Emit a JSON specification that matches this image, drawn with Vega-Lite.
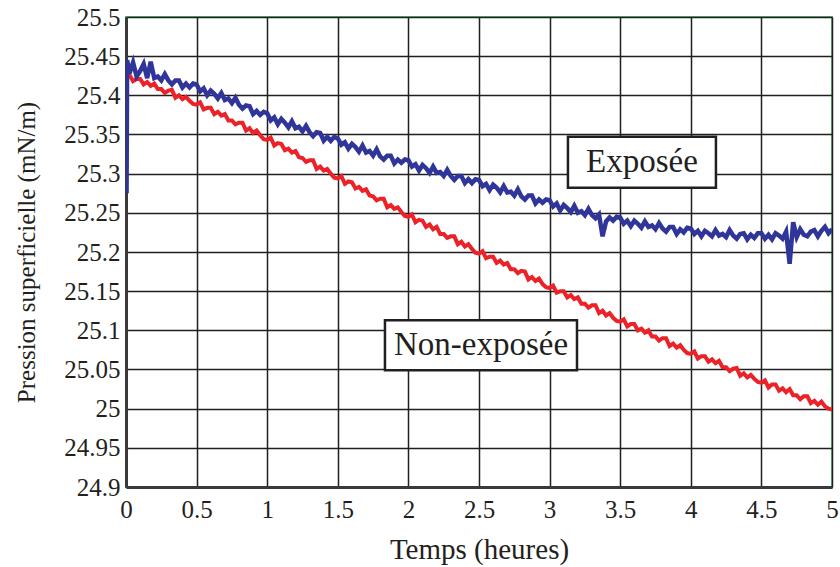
{
  "$schema": "https://vega.github.io/schema/vega-lite/v6.json",
  "width": 706,
  "height": 470,
  "autosize": "none",
  "padding": {"left": 126, "top": 17, "right": 8, "bottom": 80},
  "background": "white",
  "config": {
    "font": "Liberation Serif",
    "view": {"stroke": "#5cb87f", "strokeWidth": 2},
    "axis": {
      "labelFont": "Liberation Serif",
      "titleFont": "Liberation Serif",
      "labelFontSize": 25,
      "titleFontWeight": "normal",
      "labelColor": "#231f20",
      "titleColor": "#231f20",
      "gridColor": "#231f20",
      "gridWidth": 1.5,
      "gridOpacity": 1,
      "domainColor": "#3a3a3a",
      "domainWidth": 3,
      "ticks": false,
      "labelFlush": false,
      "labelOverlap": false
    },
    "axisX": {"labelPadding": 10, "titlePadding": 13, "titleFontSize": 29},
    "axisY": {"labelPadding": 6, "titlePadding": 24, "titleFontSize": 25}
  },
  "datasets": {
    "series": [
      {"t":0,"e":25.436,"n":25.423},
      {"t":0.004,"e":25.275,"n":25.424},
      {"t":0.008,"e":25.445,"n":25.425},
      {"t":0.025,"e":25.428,"n":25.426},
      {"t":0.05,"e":25.442,"n":25.418},
      {"t":0.075,"e":25.424,"n":25.421},
      {"t":0.1,"e":25.431,"n":25.421},
      {"t":0.125,"e":25.440,"n":25.414},
      {"t":0.15,"e":25.422,"n":25.417},
      {"t":0.175,"e":25.443,"n":25.412},
      {"t":0.2,"e":25.422,"n":25.415},
      {"t":0.225,"e":25.424,"n":25.408},
      {"t":0.25,"e":25.419,"n":25.408},
      {"t":0.275,"e":25.427,"n":25.403},
      {"t":0.3,"e":25.419,"n":25.406},
      {"t":0.325,"e":25.414,"n":25.407},
      {"t":0.35,"e":25.419,"n":25.397},
      {"t":0.375,"e":25.419,"n":25.400},
      {"t":0.4,"e":25.410,"n":25.395},
      {"t":0.425,"e":25.415,"n":25.398},
      {"t":0.45,"e":25.410,"n":25.393},
      {"t":0.475,"e":25.415,"n":25.389},
      {"t":0.5,"e":25.414,"n":25.388},
      {"t":0.525,"e":25.405,"n":25.391},
      {"t":0.55,"e":25.409,"n":25.382},
      {"t":0.575,"e":25.400,"n":25.384},
      {"t":0.6,"e":25.406,"n":25.384},
      {"t":0.625,"e":25.402,"n":25.376},
      {"t":0.65,"e":25.396,"n":25.379},
      {"t":0.675,"e":25.403,"n":25.374},
      {"t":0.7,"e":25.394,"n":25.376},
      {"t":0.725,"e":25.396,"n":25.368},
      {"t":0.75,"e":25.390,"n":25.368},
      {"t":0.775,"e":25.397,"n":25.363},
      {"t":0.8,"e":25.388,"n":25.365},
      {"t":0.825,"e":25.383,"n":25.365},
      {"t":0.85,"e":25.387,"n":25.355},
      {"t":0.875,"e":25.386,"n":25.358},
      {"t":0.9,"e":25.376,"n":25.352},
      {"t":0.925,"e":25.380,"n":25.355},
      {"t":0.95,"e":25.375,"n":25.349},
      {"t":0.975,"e":25.379,"n":25.344},
      {"t":1,"e":25.377,"n":25.343},
      {"t":1.025,"e":25.368,"n":25.346},
      {"t":1.05,"e":25.372,"n":25.336},
      {"t":1.075,"e":25.363,"n":25.339},
      {"t":1.1,"e":25.370,"n":25.338},
      {"t":1.125,"e":25.365,"n":25.330},
      {"t":1.15,"e":25.359,"n":25.332},
      {"t":1.175,"e":25.367,"n":25.327},
      {"t":1.2,"e":25.358,"n":25.329},
      {"t":1.225,"e":25.360,"n":25.321},
      {"t":1.25,"e":25.354,"n":25.320},
      {"t":1.275,"e":25.361,"n":25.315},
      {"t":1.3,"e":25.353,"n":25.317},
      {"t":1.325,"e":25.348,"n":25.317},
      {"t":1.35,"e":25.353,"n":25.306},
      {"t":1.375,"e":25.352,"n":25.309},
      {"t":1.4,"e":25.342,"n":25.304},
      {"t":1.425,"e":25.347,"n":25.306},
      {"t":1.45,"e":25.342,"n":25.300},
      {"t":1.475,"e":25.347,"n":25.295},
      {"t":1.5,"e":25.345,"n":25.294},
      {"t":1.525,"e":25.337,"n":25.297},
      {"t":1.55,"e":25.340,"n":25.287},
      {"t":1.575,"e":25.332,"n":25.290},
      {"t":1.6,"e":25.338,"n":25.289},
      {"t":1.625,"e":25.334,"n":25.281},
      {"t":1.65,"e":25.328,"n":25.283},
      {"t":1.675,"e":25.336,"n":25.278},
      {"t":1.7,"e":25.327,"n":25.280},
      {"t":1.725,"e":25.329,"n":25.272},
      {"t":1.75,"e":25.323,"n":25.271},
      {"t":1.775,"e":25.331,"n":25.266},
      {"t":1.8,"e":25.322,"n":25.268},
      {"t":1.825,"e":25.318,"n":25.268},
      {"t":1.85,"e":25.323,"n":25.257},
      {"t":1.875,"e":25.323,"n":25.260},
      {"t":1.9,"e":25.313,"n":25.255},
      {"t":1.925,"e":25.318,"n":25.257},
      {"t":1.95,"e":25.314,"n":25.251},
      {"t":1.975,"e":25.318,"n":25.246},
      {"t":2,"e":25.317,"n":25.245},
      {"t":2.025,"e":25.309,"n":25.248},
      {"t":2.05,"e":25.312,"n":25.238},
      {"t":2.075,"e":25.304,"n":25.241},
      {"t":2.1,"e":25.311,"n":25.240},
      {"t":2.125,"e":25.307,"n":25.232},
      {"t":2.15,"e":25.301,"n":25.235},
      {"t":2.175,"e":25.309,"n":25.229},
      {"t":2.2,"e":25.301,"n":25.232},
      {"t":2.225,"e":25.302,"n":25.223},
      {"t":2.25,"e":25.297,"n":25.223},
      {"t":2.275,"e":25.305,"n":25.218},
      {"t":2.3,"e":25.297,"n":25.220},
      {"t":2.325,"e":25.292,"n":25.220},
      {"t":2.35,"e":25.297,"n":25.210},
      {"t":2.375,"e":25.297,"n":25.213},
      {"t":2.4,"e":25.288,"n":25.207},
      {"t":2.425,"e":25.293,"n":25.210},
      {"t":2.45,"e":25.288,"n":25.204},
      {"t":2.475,"e":25.293,"n":25.199},
      {"t":2.5,"e":25.292,"n":25.198},
      {"t":2.525,"e":25.284,"n":25.201},
      {"t":2.55,"e":25.287,"n":25.192},
      {"t":2.575,"e":25.279,"n":25.194},
      {"t":2.6,"e":25.286,"n":25.194},
      {"t":2.625,"e":25.282,"n":25.186},
      {"t":2.65,"e":25.276,"n":25.189},
      {"t":2.675,"e":25.284,"n":25.184},
      {"t":2.7,"e":25.276,"n":25.186},
      {"t":2.725,"e":25.277,"n":25.178},
      {"t":2.75,"e":25.272,"n":25.178},
      {"t":2.775,"e":25.280,"n":25.173},
      {"t":2.8,"e":25.271,"n":25.176},
      {"t":2.825,"e":25.267,"n":25.175},
      {"t":2.85,"e":25.272,"n":25.165},
      {"t":2.875,"e":25.272,"n":25.168},
      {"t":2.9,"e":25.262,"n":25.163},
      {"t":2.925,"e":25.267,"n":25.166},
      {"t":2.95,"e":25.263,"n":25.159},
      {"t":2.975,"e":25.267,"n":25.155},
      {"t":3,"e":25.266,"n":25.154},
      {"t":3.025,"e":25.258,"n":25.157},
      {"t":3.05,"e":25.262,"n":25.148},
      {"t":3.075,"e":25.253,"n":25.150},
      {"t":3.1,"e":25.260,"n":25.150},
      {"t":3.125,"e":25.256,"n":25.142},
      {"t":3.15,"e":25.251,"n":25.145},
      {"t":3.175,"e":25.259,"n":25.140},
      {"t":3.2,"e":25.250,"n":25.142},
      {"t":3.225,"e":25.252,"n":25.134},
      {"t":3.25,"e":25.247,"n":25.134},
      {"t":3.275,"e":25.255,"n":25.129},
      {"t":3.3,"e":25.247,"n":25.132},
      {"t":3.325,"e":25.243,"n":25.132},
      {"t":3.35,"e":25.248,"n":25.122},
      {"t":3.375,"e":25.220,"n":25.125},
      {"t":3.4,"e":25.239,"n":25.119},
      {"t":3.425,"e":25.244,"n":25.122},
      {"t":3.45,"e":25.240,"n":25.116},
      {"t":3.475,"e":25.245,"n":25.112},
      {"t":3.5,"e":25.244,"n":25.111},
      {"t":3.525,"e":25.236,"n":25.114},
      {"t":3.55,"e":25.240,"n":25.105},
      {"t":3.575,"e":25.233,"n":25.108},
      {"t":3.6,"e":25.240,"n":25.108},
      {"t":3.625,"e":25.236,"n":25.100},
      {"t":3.65,"e":25.231,"n":25.102},
      {"t":3.675,"e":25.239,"n":25.097},
      {"t":3.7,"e":25.232,"n":25.100},
      {"t":3.725,"e":25.234,"n":25.092},
      {"t":3.75,"e":25.229,"n":25.092},
      {"t":3.775,"e":25.237,"n":25.087},
      {"t":3.8,"e":25.230,"n":25.090},
      {"t":3.825,"e":25.226,"n":25.090},
      {"t":3.85,"e":25.232,"n":25.080},
      {"t":3.875,"e":25.232,"n":25.083},
      {"t":3.9,"e":25.223,"n":25.078},
      {"t":3.925,"e":25.229,"n":25.081},
      {"t":3.95,"e":25.225,"n":25.075},
      {"t":3.975,"e":25.231,"n":25.071},
      {"t":4,"e":25.230,"n":25.070},
      {"t":4.025,"e":25.223,"n":25.073},
      {"t":4.05,"e":25.227,"n":25.064},
      {"t":4.075,"e":25.220,"n":25.067},
      {"t":4.1,"e":25.227,"n":25.067},
      {"t":4.125,"e":25.224,"n":25.060},
      {"t":4.15,"e":25.220,"n":25.063},
      {"t":4.175,"e":25.228,"n":25.058},
      {"t":4.2,"e":25.221,"n":25.061},
      {"t":4.225,"e":25.223,"n":25.053},
      {"t":4.25,"e":25.219,"n":25.053},
      {"t":4.275,"e":25.228,"n":25.048},
      {"t":4.3,"e":25.221,"n":25.051},
      {"t":4.325,"e":25.217,"n":25.052},
      {"t":4.35,"e":25.223,"n":25.042},
      {"t":4.375,"e":25.224,"n":25.045},
      {"t":4.4,"e":25.216,"n":25.040},
      {"t":4.425,"e":25.222,"n":25.043},
      {"t":4.45,"e":25.218,"n":25.038},
      {"t":4.475,"e":25.224,"n":25.034},
      {"t":4.5,"e":25.224,"n":25.033},
      {"t":4.525,"e":25.217,"n":25.036},
      {"t":4.55,"e":25.222,"n":25.027},
      {"t":4.575,"e":25.216,"n":25.031},
      {"t":4.6,"e":25.224,"n":25.031},
      {"t":4.625,"e":25.221,"n":25.023},
      {"t":4.65,"e":25.217,"n":25.026},
      {"t":4.675,"e":25.226,"n":25.021},
      {"t":4.7,"e":25.185,"n":25.025},
      {"t":4.725,"e":25.238,"n":25.017},
      {"t":4.75,"e":25.219,"n":25.017},
      {"t":4.775,"e":25.229,"n":25.012},
      {"t":4.8,"e":25.222,"n":25.016},
      {"t":4.825,"e":25.220,"n":25.016},
      {"t":4.85,"e":25.226,"n":25.007},
      {"t":4.875,"e":25.228,"n":25.010},
      {"t":4.9,"e":25.220,"n":25.005},
      {"t":4.925,"e":25.227,"n":25.009},
      {"t":4.95,"e":25.232,"n":25.003},
      {"t":4.975,"e":25.224,"n":25.000},
      {"t":5,"e":25.229,"n":24.999}
    ],
    "boxes": [
      {"label":"Exposée","x1":3.13,"x2":4.178,"y1":25.282,"y2":25.347,"xc":3.654,"yc":25.3145},
      {"label":"Non-exposée","x1":1.834,"x2":3.194,"y1":25.049,"y2":25.113,"xc":2.514,"yc":25.081}
    ]
  },
  "layer": [
    {
      "data": {"name": "series"},
      "mark": {"type": "line", "color": "#ec2229", "strokeWidth": 4, "clip": true},
      "encoding": {
        "x": {
          "field": "t", "type": "quantitative",
          "scale": {"domain": [0, 5], "nice": false},
          "axis": {"title": "Temps (heures)", "values": [0, 0.5, 1, 1.5, 2, 2.5, 3, 3.5, 4, 4.5, 5], "format": "~g"}
        },
        "y": {
          "field": "n", "type": "quantitative",
          "scale": {"domain": [24.9, 25.5], "nice": false, "zero": false},
          "axis": {"title": "Pression superficielle (mN/m)", "values": [24.9, 24.95, 25, 25.05, 25.1, 25.15, 25.2, 25.25, 25.3, 25.35, 25.4, 25.45, 25.5], "format": "~g"}
        }
      }
    },
    {
      "data": {"name": "series"},
      "mark": {"type": "line", "color": "#30359a", "strokeWidth": 4.5, "clip": true},
      "encoding": {
        "x": {"field": "t", "type": "quantitative",
          "axis": {"title": "Temps (heures)", "values": [0, 0.5, 1, 1.5, 2, 2.5, 3, 3.5, 4, 4.5, 5], "format": "~g"}},
        "y": {"field": "e", "type": "quantitative",
          "axis": {"title": "Pression superficielle (mN/m)", "values": [24.9, 24.95, 25, 25.05, 25.1, 25.15, 25.2, 25.25, 25.3, 25.35, 25.4, 25.45, 25.5], "format": "~g"}}
      }
    },
    {
      "data": {"name": "boxes"},
      "mark": {"type": "rect", "fill": "white", "stroke": "#231f20", "strokeWidth": 2.5},
      "encoding": {
        "x": {"field": "x1", "type": "quantitative",
          "axis": {"title": "Temps (heures)", "values": [0, 0.5, 1, 1.5, 2, 2.5, 3, 3.5, 4, 4.5, 5], "format": "~g"}},
        "x2": {"field": "x2"},
        "y": {"field": "y1", "type": "quantitative",
          "axis": {"title": "Pression superficielle (mN/m)", "values": [24.9, 24.95, 25, 25.05, 25.1, 25.15, 25.2, 25.25, 25.3, 25.35, 25.4, 25.45, 25.5], "format": "~g"}},
        "y2": {"field": "y2"}
      }
    },
    {
      "data": {"name": "boxes"},
      "mark": {"type": "text", "font": "Liberation Serif", "fontSize": 33, "color": "#231f20", "align": "center", "baseline": "middle"},
      "encoding": {
        "x": {"field": "xc", "type": "quantitative",
          "axis": {"title": "Temps (heures)", "values": [0, 0.5, 1, 1.5, 2, 2.5, 3, 3.5, 4, 4.5, 5], "format": "~g"}},
        "y": {"field": "yc", "type": "quantitative",
          "axis": {"title": "Pression superficielle (mN/m)", "values": [24.9, 24.95, 25, 25.05, 25.1, 25.15, 25.2, 25.25, 25.3, 25.35, 25.4, 25.45, 25.5], "format": "~g"}},
        "text": {"field": "label"}
      }
    }
  ]
}
